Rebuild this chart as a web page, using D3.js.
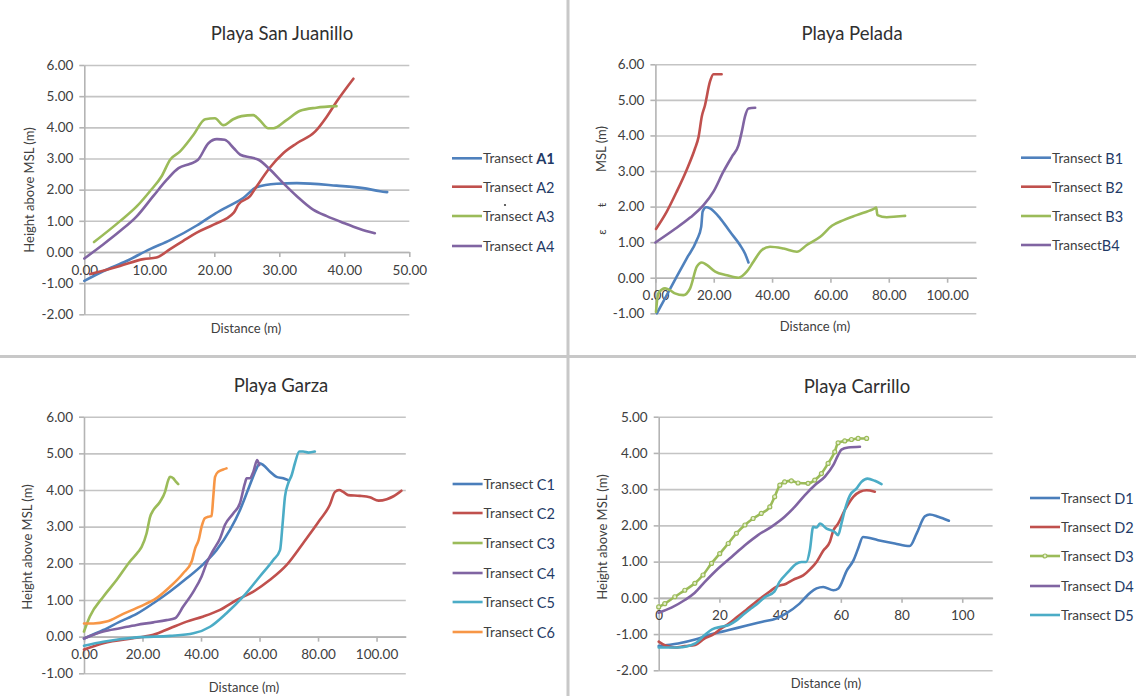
<!DOCTYPE html>
<html>
<head>
<meta charset="utf-8">
<script src="https://cdn.jsdelivr.net/npm/d3@7"></script>
<style>
  body { margin: 0; background: #fff; }
  svg { display: block; }
  text { font-family: Lato, "Open Sans", sans-serif; }
</style>
</head>
<body>
<svg id="chart" width="1136" height="696"></svg>
<script>
// ---- data: [distance (m), height above MSL (m)] ----
const transectA1 = [[0,-0.93],[2.9,-0.62],[6.5,-0.29],[10.1,0.09],[13.2,0.38],[17.3,0.85],[19.9,1.2],[22,1.45],[24.5,1.74],[26.5,2.08],[29.6,2.19],[32.7,2.21],[38.8,2.13],[42.9,2.05],[45.5,1.95],[46.6,1.92]];
const transectA2 = [[0.9,-0.71],[2.9,-0.6],[5.5,-0.45],[9.1,-0.23],[11.1,-0.18],[13.2,0.09],[15.7,0.42],[17.3,0.62],[19.9,0.88],[23,1.26],[23.7,1.52],[25.5,1.79],[26.5,2.1],[28.6,2.72],[30.6,3.17],[32.7,3.49],[35.5,3.86],[37.3,4.34],[38.8,4.82],[41.4,5.56]];
const transectA3 = [[1.5,0.32],[5.5,0.99],[8.1,1.47],[10.1,1.95],[11.9,2.43],[13.2,2.96],[14.7,3.22],[16.8,3.76],[18.6,4.26],[20.1,4.29],[21.4,4.07],[22.9,4.26],[24.2,4.36],[26,4.39],[27,4.23],[28.3,3.97],[29.1,3.97],[31.1,4.23],[33.2,4.53],[35.7,4.63],[38.8,4.68]];
const transectA4 = [[0,-0.21],[2.9,0.24],[5.5,0.67],[8.1,1.15],[10.6,1.79],[12.7,2.32],[14.5,2.69],[16.3,2.83],[17.5,2.96],[19.1,3.49],[20.4,3.62],[21.6,3.6],[23,3.33],[24,3.12],[25.7,3.03],[26.8,2.96],[28.6,2.64],[30.6,2.21],[32.7,1.79],[35.2,1.36],[37.3,1.15],[39.8,0.94],[42.4,0.74],[44.7,0.6]];

const transectB1 = [[0.5,-1.0],[3.9,-0.49],[7.3,0.03],[10.7,0.54],[14.2,1.06],[15.7,1.43],[16.2,1.86],[17.4,1.98],[18.7,1.95],[22.2,1.67],[25.6,1.29],[29,0.92],[30.7,0.68],[31.9,0.43]];
const transectB2 = [[0.2,1.37],[3.9,1.86],[7.3,2.42],[10.7,3.03],[13.6,3.64],[14.8,3.96],[15.9,4.53],[17,4.85],[18.7,5.51],[19.9,5.72],[22.7,5.72]];
const transectB3 = [[0.2,-0.96],[1,-0.44],[3.3,-0.3],[5,-0.35],[6.7,-0.44],[9.6,-0.49],[11.9,-0.3],[14.2,0.31],[15.9,0.43],[17.6,0.36],[20.5,0.17],[24.5,0.07],[28.5,0],[31.3,0.17],[33.6,0.45],[36.5,0.78],[39.3,0.87],[43.9,0.82],[48.5,0.73],[51.9,0.92],[56.5,1.15],[60.5,1.46],[64.5,1.62],[69,1.76],[74.7,1.93],[75.7,1.97],[76.1,1.76],[79.3,1.7],[82.7,1.72],[85.6,1.74]];
const transectB4 = [[0,0.99],[6.2,1.34],[11.9,1.69],[16.5,2.04],[19.9,2.42],[23.3,2.98],[26.2,3.4],[28.5,3.73],[29.6,4.1],[30.7,4.53],[31.9,4.76],[34.2,4.78]];

const transectC1 = [[0,-0.05],[6.6,0.18],[12.3,0.41],[18,0.62],[23.7,0.91],[29.4,1.23],[35.1,1.59],[40.8,1.98],[45.3,2.36],[49.9,2.91],[53.3,3.45],[55.6,3.91],[57.6,4.32],[59,4.59],[60.1,4.73],[61.3,4.68],[63.6,4.5],[65.8,4.36],[68.1,4.32],[69.8,4.27]];
const transectC2 = [[0,-0.35],[6.6,-0.18],[18,-0.03],[23.7,0.05],[29.4,0.23],[35.1,0.41],[40.8,0.55],[46.5,0.73],[52.2,1.0],[57.9,1.23],[63.6,1.55],[69.2,1.95],[74.9,2.55],[80.6,3.18],[84,3.59],[85.8,3.95],[87.2,4.0],[88.6,3.95],[90.3,3.86],[94.3,3.84],[97.7,3.8],[100.7,3.71],[103.5,3.75],[105.8,3.83],[108.5,3.98]];
const transectC3 = [[0,0.14],[2,0.55],[6.6,1.09],[11.2,1.55],[15.7,2.05],[18.6,2.32],[19.7,2.45],[21.4,2.82],[22.6,3.27],[23.7,3.45],[26,3.68],[27.7,3.95],[28.8,4.27],[29.4,4.36],[30.5,4.32],[31.4,4.23],[32.2,4.16]];
const transectC4 = [[0,-0.05],[6.6,0.14],[12.3,0.23],[18,0.32],[23.7,0.39],[28.2,0.45],[31.1,0.5],[33.9,0.82],[37.4,1.23],[40.2,1.64],[41.9,2.0],[44.2,2.36],[46.5,2.68],[48.2,3.05],[51,3.36],[53.3,3.64],[55,4.18],[55.6,4.32],[56.7,4.32],[57.9,4.5],[59.2,4.82],[59.9,4.68]];
const transectC5 = [[0,-0.25],[6.6,-0.14],[18,-0.02],[29.4,0.02],[37.4,0.09],[43.1,0.27],[48.7,0.64],[54.4,1.09],[60.1,1.64],[64.7,2.09],[67,2.36],[67.9,3.09],[68.7,3.82],[69.8,4.18],[71,4.41],[72.1,4.73],[73.6,5.05],[74.9,5.05],[76.7,5.02],[78.9,5.05]];
const transectC6 = [[0,0.36],[3.2,0.36],[7.7,0.41],[13.4,0.62],[19.1,0.82],[24.8,1.05],[29.4,1.36],[33.9,1.73],[36.8,2.05],[38,2.41],[39.2,2.64],[40.2,3.0],[41.3,3.23],[42.5,3.27],[43.6,3.29],[44.2,3.82],[44.8,4.36],[45.9,4.5],[47.6,4.56],[48.7,4.59]];

const transectD1 = [[0,-1.33],[6.4,-1.26],[12,-1.15],[17.6,-1.0],[23.1,-0.89],[28.7,-0.77],[34.2,-0.66],[38.7,-0.57],[42,-0.43],[46.4,-0.16],[50,0.15],[52,0.26],[54.2,0.3],[57.6,0.21],[59.2,0.26],[62,0.76],[64.2,1.04],[65.7,1.36],[67.3,1.68],[72.3,1.59],[77.8,1.5],[82.7,1.43],[85,1.78],[87.7,2.25],[89.3,2.3],[92.1,2.24],[95.6,2.13]];
const transectD2 = [[0,-1.21],[2,-1.31],[5.3,-1.37],[8.6,-1.33],[12,-1.3],[15.2,-1.12],[17.6,-1.03],[20.5,-0.85],[23.1,-0.71],[25.8,-0.53],[28.7,-0.34],[31.5,-0.15],[34.2,0.03],[36.5,0.17],[38.7,0.3],[42,0.39],[44.8,0.52],[47.6,0.62],[50,0.8],[52,0.99],[54.2,1.3],[56.4,1.55],[57.5,1.85],[59.1,2.05],[61.3,2.42],[64.1,2.79],[66.3,2.93],[68.5,2.97],[71.2,2.93]];
const transectD3 = [[0,-0.25],[2,-0.16],[5.3,0.03],[8.6,0.21],[11.9,0.4],[14.6,0.63],[17.4,0.95],[20.1,1.22],[22.9,1.5],[25.6,1.78],[28.4,2.01],[31.1,2.19],[33.8,2.33],[36.6,2.51],[38.2,2.79],[39.9,3.11],[41.5,3.2],[43.7,3.23],[45.9,3.17],[49.2,3.16],[51.4,3.25],[53.6,3.43],[55.8,3.71],[58,4.03],[59.1,4.28],[61.3,4.33],[63.5,4.37],[65.7,4.4],[68.5,4.4]];
const transectD4 = [[0,-0.41],[4.2,-0.27],[8.6,-0.06],[11.9,0.14],[15.2,0.44],[19.6,0.81],[24,1.13],[28.4,1.45],[32.7,1.73],[37.1,1.96],[41.5,2.24],[44.8,2.51],[48.1,2.83],[51.4,3.11],[54.7,3.34],[57.5,3.66],[59.1,3.94],[60.2,4.09],[62.4,4.15],[66.3,4.17]];
const transectD5 = [[0,-1.37],[6.4,-1.37],[12,-1.26],[15.2,-1.02],[17.6,-0.87],[20.5,-0.8],[23.1,-0.75],[25.5,-0.63],[27.6,-0.48],[30,-0.32],[32,-0.2],[35,0.02],[38.1,0.17],[39.8,0.44],[42.5,0.7],[45.3,0.94],[47,0.99],[48.6,0.99],[49.8,1.32],[50.9,1.96],[52,1.94],[53.1,2.05],[55.3,1.91],[58,1.82],[59.1,1.73],[60.2,2.05],[61.3,2.42],[63,2.83],[65.2,3.02],[66.8,3.2],[68.8,3.29],[71.2,3.23],[73.4,3.14]];

// ---- labels and ticks ----
const titles = ["Playa San Juanillo", "Playa Pelada", "Playa Garza", "Playa Carrillo"];
const yTitles = ["Height above MSL (m)", "MSL (m)", "Height above MSL (m)", "Height above MSL (m)"];
const xTitle = "Distance (m)";
const ticksA_x = [0, 10, 20, 30, 40, 50];
const ticksA_y = [-2, -1, 0, 1, 2, 3, 4, 5, 6];
const ticksB_x = [0, 20, 40, 60, 80, 100];
const ticksB_y = [-1, 0, 1, 2, 3, 4, 5, 6];
const ticksC_x = [0, 20, 40, 60, 80, 100];
const ticksC_y = [-1, 0, 1, 2, 3, 4, 5, 6];
const ticksD_x = [0, 20, 40, 60, 80, 100];
const ticksD_y = [-2, -1, 0, 1, 2, 3, 4, 5];
const legendA = [["Transect ", "A1"], ["Transect ", "A2"], ["Transect ", "A3"], ["Transect ", "A4"]];
const legendB = [["Transect ", "B1"], ["Transect ", "B2"], ["Transect ", "B3"], ["Transect", "B4"]];
const legendC = [["Transect ", "C1"], ["Transect ", "C2"], ["Transect ", "C3"], ["Transect ", "C4"], ["Transect ", "C5"], ["Transect ", "C6"]];
const legendD = [["Transect ", "D1"], ["Transect ", "D2"], ["Transect ", "D3"], ["Transect ", "D4"], ["Transect ", "D5"]];

const BLUE = "#4f81bd", RED = "#c0504d", GREEN = "#9bbb59", PURPLE = "#8064a2", AQUA = "#4bacc6", ORANGE = "#f79646";
const GRID = "#c4c4c4", INK = "#404040", NAVY = "#1f3a66";

const svg = d3.select("#chart");

// panel dividers
svg.append("line").attr("x1", 568).attr("x2", 568).attr("y1", 0).attr("y2", 696)
  .attr("stroke", "#c8c8c8").attr("stroke-width", 3);
svg.append("line").attr("x1", 0).attr("x2", 1136).attr("y1", 356.5).attr("y2", 356.5)
  .attr("stroke", "#c8c8c8").attr("stroke-width", 3);

function drawPanel(p) {
  const x = d3.scaleLinear().domain(p.xDomain).range(p.xRange);
  const y = d3.scaleLinear().domain(p.yDomain).range(p.yRange);
  const g = svg.append("g");
  const w = p.xRange[1] - p.xRange[0];

  // gridlines
  g.append("g")
    .attr("transform", `translate(${p.xRange[0]},0)`)
    .call(d3.axisLeft(y).tickValues(p.yTicks).tickSize(-w).tickFormat(""))
    .call(s => s.select(".domain").remove())
    .selectAll("line").attr("stroke", GRID).attr("stroke-width", 1.6);

  // y axis
  const ya = g.append("g")
    .attr("transform", `translate(${x(0)},0)`)
    .call(d3.axisLeft(y).tickValues(p.yTicks).tickSize(5).tickSizeOuter(0).tickPadding(6)
      .tickFormat(d => d.toFixed(2)));

  // x axis crossing at 0
  const xa = g.append("g")
    .attr("transform", `translate(0,${y(0)})`)
    .call(d3.axisBottom(x).tickValues(p.xTicks).tickSize(5).tickSizeOuter(0).tickPadding(8)
      .tickFormat(p.xFmt));

  [ya, xa].forEach(a => {
    a.attr("font-size", null).attr("font-family", null);
    a.selectAll(".domain, .tick line").attr("stroke", "#b4b4b4").attr("stroke-width", 1.6);
    a.selectAll("text").attr("fill", INK).style("font-size", "13.5px");
  });

  // series
  const line = d3.line().x(d => x(d[0])).y(d => y(d[1])).curve(d3.curveMonotoneX);
  p.series.forEach(s => {
    g.append("path").datum(s.values)
      .attr("d", line)
      .attr("fill", "none")
      .attr("stroke", s.color)
      .attr("stroke-width", 2.6)
      .attr("stroke-linejoin", "round")
      .attr("stroke-linecap", "round");
    if (s.marker) {
      g.selectAll(null).data(s.values).join("circle")
        .attr("cx", d => x(d[0])).attr("cy", d => y(d[1])).attr("r", 2)
        .attr("fill", "#e4edcf").attr("stroke", s.color).attr("stroke-width", 1.2);
    }
  });

  // titles
  g.append("text").attr("x", p.title[0]).attr("y", p.title[1])
    .attr("text-anchor", "middle").attr("dominant-baseline", "central")
    .attr("fill", "#303030").style("font-size", "18.5px").text(p.titleText);
  g.append("text").attr("x", p.xTitlePos[0]).attr("y", p.xTitlePos[1])
    .attr("text-anchor", "middle").attr("dominant-baseline", "central")
    .attr("fill", INK).style("font-size", "13px").text(xTitle);
  g.append("text")
    .attr("transform", `translate(${p.yTitlePos[0]},${p.yTitlePos[1]}) rotate(-90)`)
    .attr("text-anchor", "middle").attr("dominant-baseline", "central")
    .attr("fill", INK).style("font-size", "13px").text(p.yTitleText);

  // legend
  const lg = g.append("g").selectAll("g").data(p.series).join("g")
    .attr("transform", (d, i) => `translate(${p.legend.x},${p.legend.rows[i]})`);
  lg.append("line").attr("x1", 0).attr("x2", 30).attr("stroke", d => d.color).attr("stroke-width", 2.6);
  lg.filter(d => d.marker).append("circle").attr("cx", 15).attr("r", 2)
    .attr("fill", "#e4edcf").attr("stroke", d => d.color).attr("stroke-width", 1.2);
  const lt = lg.append("text").attr("x", 31).attr("dominant-baseline", "central").style("font-size", "13.5px");
  lt.append("tspan").attr("fill", INK).text(d => d.label[0]);
  lt.append("tspan").attr("fill", NAVY)
    .attr("font-weight", d => d.bold ? "bold" : null).style("font-size", "14.5px").text(d => d.label[1]);
  return g;
}

drawPanel({
  xDomain: [0, 50], xRange: [84.3, 409.3], yDomain: [-2, 6], yRange: [314.3, 65],
  xTicks: ticksA_x, yTicks: ticksA_y, xFmt: d => d.toFixed(2),
  titleText: titles[0], title: [282, 33], xTitlePos: [246, 328], yTitleText: yTitles[0], yTitlePos: [29, 190],
  legend: { x: 452, rows: [158.3, 186.7, 216, 246] },
  series: [
    { values: transectA1, color: BLUE, label: legendA[0], bold: true },
    { values: transectA2, color: RED, label: legendA[1] },
    { values: transectA3, color: GREEN, label: legendA[2] },
    { values: transectA4, color: PURPLE, label: legendA[3] }
  ]
});
// stray dot near the legend in the source image
svg.append("circle").attr("cx", 505).attr("cy", 205).attr("r", 1.1).attr("fill", INK);

drawPanel({
  xDomain: [0, 110], xRange: [655.4, 976.3], yDomain: [-1, 6], yRange: [313.3, 64.3],
  xTicks: ticksB_x, yTicks: ticksB_y, xFmt: d => d.toFixed(2),
  titleText: titles[1], title: [852, 33], xTitlePos: [815, 326], yTitleText: yTitles[1], yTitlePos: [601, 149],
  legend: { x: 1021, rows: [157.7, 186.7, 216, 245] },
  series: [
    { values: transectB1, color: BLUE, label: legendB[0] },
    { values: transectB2, color: RED, label: legendB[1] },
    { values: transectB3, color: GREEN, label: legendB[2] },
    { values: transectB4, color: PURPLE, label: legendB[3] }
  ]
});
// leftover glyphs of the clipped axis title
[["ŧ", 205], ["ɛ", 232]].forEach(([c, yy]) => {
  svg.append("text").attr("transform", `translate(601,${yy}) rotate(-90)`)
    .attr("text-anchor", "middle").attr("dominant-baseline", "central")
    .attr("fill", INK).style("font-size", "12px").text(c);
});

drawPanel({
  xDomain: [0, 110], xRange: [84, 405.8], yDomain: [-1, 6], yRange: [673.3, 416.7],
  xTicks: ticksC_x, yTicks: ticksC_y, xFmt: d => d.toFixed(2),
  titleText: titles[2], title: [281, 385], xTitlePos: [244, 687], yTitleText: yTitles[2], yTitlePos: [27, 547],
  legend: { x: 452.6, rows: [484, 513, 543, 573, 602, 632] },
  series: [
    { values: transectC1, color: "#4a7ebb", label: legendC[0] },
    { values: transectC2, color: RED, label: legendC[1] },
    { values: transectC3, color: GREEN, label: legendC[2] },
    { values: transectC4, color: PURPLE, label: legendC[3] },
    { values: transectC5, color: AQUA, label: legendC[4] },
    { values: transectC6, color: ORANGE, label: legendC[5] }
  ]
});

drawPanel({
  xDomain: [0, 110], xRange: [658.7, 992.6], yDomain: [-2, 5], yRange: [670.3, 416.7],
  xTicks: ticksD_x, yTicks: ticksD_y, xFmt: d3.format("d"),
  titleText: titles[3], title: [857, 386], xTitlePos: [826, 683], yTitleText: yTitles[3], yTitlePos: [602, 537],
  legend: { x: 1030, rows: [498, 527, 556, 586, 615] },
  series: [
    { values: transectD1, color: "#4a7ebb", label: legendD[0] },
    { values: transectD2, color: RED, label: legendD[1] },
    { values: transectD3, color: GREEN, label: legendD[2], marker: true },
    { values: transectD4, color: PURPLE, label: legendD[3] },
    { values: transectD5, color: AQUA, label: legendD[4] }
  ]
});
</script>
</body>
</html>
